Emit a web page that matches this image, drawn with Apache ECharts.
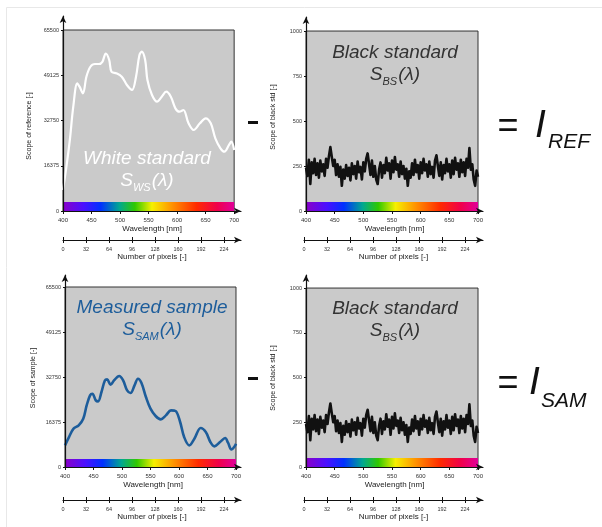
<!DOCTYPE html>
<html>
<head>
<meta charset="utf-8">
<script src="https://cdn.jsdelivr.net/npm/echarts@6/dist/echarts.min.js"></script>
<style>
html, body { margin: 0; padding: 0; background: #ffffff; }
#chart { width: 602px; height: 527px; }
</style>
</head>
<body>
<div id="chart"></div>
<script>
// Tick positions for the axes
const wavelengthTicks = [400, 450, 500, 550, 600, 650, 700];
const pixelTicks = [0, 32, 64, 96, 128, 160, 192, 224];
const scopeTicks = [0, 16375, 32750, 49125, 65500];
const blackTicks = [0, 250, 500, 750, 1000];

// White standard spectrum S_WS(λ)
const whiteNm  = [400, 406, 412, 418, 425, 429, 435, 441, 448, 456, 463, 469, 475, 481, 485, 494, 503, 512, 521, 528, 534, 538, 544, 548, 556, 565, 573, 581, 589, 597, 604, 611, 620, 629, 640, 650, 659, 667, 676, 683, 691, 695, 700];
const whiteVal = [7600, 16030, 25700, 37750, 46200, 45000, 42600, 48600, 52200, 53200, 53200, 54000, 57000, 54650, 50400, 49800, 48600, 45600, 43800, 48600, 56450, 57650, 54650, 47400, 42000, 39560, 41370, 43170, 41370, 37150, 35940, 36550, 31740, 29310, 31740, 33550, 31740, 26310, 22690, 21460, 23890, 25080, 22080];

// Measured sample spectrum S_SAM(λ)
const sampleNm  = [400, 407, 415, 424, 432, 438, 444, 448, 454, 458, 464, 470, 474, 480, 486, 495, 502, 509, 515, 522, 528, 534, 542, 550, 559, 568, 577, 586, 594, 602, 609, 618, 627, 638, 647, 655, 662, 672, 681, 686, 692, 698, 700];
const sampleVal = [7860, 10900, 13940, 15150, 17580, 22420, 26050, 26660, 24240, 23870, 27290, 31510, 31880, 29950, 31510, 33110, 31510, 27870, 26930, 29700, 32130, 30680, 25470, 21220, 18560, 17330, 18780, 20600, 20380, 16375, 10920, 7860, 10300, 14190, 12740, 9100, 7500, 9100, 10550, 8840, 6400, 7640, 8480];

// Black standard (dark) readout S_BS(λ), one reading every 2.5 nm from 400 nm
const blackStartNm = 400;
const blackStepNm = 2.5;
const blackStd = [
  240, 195, 285, 150, 270, 210, 290, 200, 265, 185,
  280, 220, 260, 195, 290, 240, 305, 355, 300, 250,
  285, 200, 260, 190, 245, 140, 230, 180, 255, 195,
  240, 170, 265, 205, 250, 180, 275, 215, 245, 175,
  270, 220, 290, 320, 260, 200, 280, 190, 250, 175,
  150, 230, 270, 185, 255, 210, 295, 225, 265, 180,
  280, 215, 300, 230, 260, 190, 275, 205, 250, 180,
  235, 140, 220, 185, 265, 200, 285, 215, 255, 180,
  270, 210, 290, 225, 260, 190, 275, 205, 245, 185,
  280, 310, 250, 195, 270, 175, 255, 210, 290, 220,
  260, 185, 280, 205, 295, 230, 265, 190, 285, 215,
  270, 195, 290, 240, 350, 230, 260, 175, 140, 225,
  190
];

const FONT = '"Liberation Sans", Arial, Helvetica, sans-serif';

function pairs(xs, ys) { return xs.map((x, i) => [x, ys[i]]); }
const blackPairs = blackStd.map((v, i) => [blackStartNm + i * blackStepNm, v]);

// Visible spectrum strip along the wavelength axis
const spectrum = {
  type: 'linear', x: 0, y: 0, x2: 1, y2: 0,
  colorStops: [
    { offset: 0.00, color: '#8a00c8' },
    { offset: 0.12, color: '#4a10ff' },
    { offset: 0.22, color: '#0030ff' },
    { offset: 0.33, color: '#00a890' },
    { offset: 0.42, color: '#30c800' },
    { offset: 0.52, color: '#f6f000' },
    { offset: 0.64, color: '#ff9000' },
    { offset: 0.78, color: '#ff2a00' },
    { offset: 0.90, color: '#f0004a' },
    { offset: 1.00, color: '#e0009a' }
  ]
};

const panels = [
  { left: 63,  top: 16,  width: 178, height: 195, xMax: 712,   yMax: 70570, yTicks: scopeTicks, yTop: 65500, bar: 3260,
    data: pairs(whiteNm, whiteVal), color: '#ffffff', lw: 2.2, smooth: 0.35,
    pix: { left: 63, top: 239, width: 178, max: 247.7 } },
  { left: 306, top: 17,  width: 177, height: 194, xMax: 708.7, yMax: 1078,  yTicks: blackTicks, yTop: 1000, bar: 50,
    data: blackPairs, color: '#111111', lw: 2.6, smooth: false,
    pix: { left: 304, top: 239, width: 179, max: 249 } },
  { left: 65,  top: 275, width: 176, height: 192, xMax: 708.8, yMax: 69870, yTicks: scopeTicks, yTop: 65500, bar: 2900,
    data: pairs(sampleNm, sampleVal), color: '#1d5d9b', lw: 2.6, smooth: 0.35,
    pix: { left: 63, top: 499, width: 178, max: 247.7 } },
  { left: 306, top: 275, width: 177, height: 192, xMax: 708.7, yMax: 1073,  yTicks: blackTicks, yTop: 1000, bar: 50,
    data: blackPairs, color: '#111111', lw: 2.6, smooth: false,
    pix: { left: 304, top: 499, width: 179, max: 249 } }
];

const axisLine = { show: true, onZero: false, lineStyle: { color: '#111', width: 1.2 }, symbol: ['none', 'arrow'], symbolSize: [5, 7] };
const tickStyle = { color: '#111', width: 1 };
const plain = (v) => String(Math.round(v));

const grids = [], xAxes = [], yAxes = [], series = [];

panels.forEach((p) => {
  const g = grids.length;
  grids.push({ left: p.left, top: p.top, width: p.width, height: p.height, containLabel: false, outerBoundsMode: 'none' });
  xAxes.push({
    type: 'value', gridIndex: g, min: 400, max: p.xMax, z: 10,
    axisLine: axisLine,
    axisTick: { show: true, customValues: wavelengthTicks, length: 3, lineStyle: tickStyle },
    axisLabel: { customValues: wavelengthTicks, formatter: plain, fontSize: 6, color: '#333', margin: 6, fontFamily: FONT },
    splitLine: { show: false },
    name: 'Wavelength [nm]', nameLocation: 'middle', nameGap: 14,
    nameTextStyle: { fontSize: 8, color: '#222', fontFamily: FONT }
  });
  yAxes.push({
    type: 'value', gridIndex: g, min: 0, max: p.yMax, z: 10,
    axisLine: axisLine,
    axisTick: { show: true, customValues: p.yTicks, length: 2, lineStyle: tickStyle },
    axisLabel: { customValues: p.yTicks, formatter: plain, fontSize: 5.5, color: '#333', margin: 4, fontFamily: FONT },
    splitLine: { show: false }
  });
  series.push({
    type: 'line', xAxisIndex: xAxes.length - 1, yAxisIndex: yAxes.length - 1,
    data: p.data, showSymbol: false, symbol: 'none', smooth: p.smooth, z: 3,
    lineStyle: { color: p.color, width: p.lw, join: 'round' },
    markArea: {
      silent: true, label: { show: false },
      data: [
        [{ coord: [400, 0], itemStyle: { color: '#cacaca', borderColor: '#333', borderWidth: 1 } }, { coord: [700, p.yTop] }],
        [{ coord: [400, 0], itemStyle: { color: spectrum, borderWidth: 0 } }, { coord: [700, p.bar] }]
      ]
    }
  });

  // Detector pixel axis below the wavelength axis
  const pg = grids.length;
  grids.push({ left: p.pix.left, top: p.pix.top, width: p.pix.width, height: 1, containLabel: false, outerBoundsMode: 'none' });
  xAxes.push({
    type: 'value', gridIndex: pg, position: 'bottom', min: 0, max: p.pix.max,
    axisLine: axisLine,
    axisTick: { show: true, customValues: pixelTicks, length: 3, lineStyle: tickStyle },
    axisLabel: { customValues: pixelTicks, formatter: plain, fontSize: 5.5, color: '#333', margin: 6, fontFamily: FONT },
    splitLine: { show: false },
    name: 'Number of pixels [-]', nameLocation: 'middle', nameGap: 13,
    nameTextStyle: { fontSize: 8, color: '#222', fontFamily: FONT }
  });
  xAxes.push({
    type: 'value', gridIndex: pg, position: 'top', offset: -1, min: 0, max: p.pix.max,
    axisLine: { show: false },
    axisTick: { show: true, customValues: pixelTicks, length: 3, lineStyle: tickStyle },
    axisLabel: { show: false },
    splitLine: { show: false }
  });
  yAxes.push({ type: 'value', gridIndex: pg, show: false, min: 0, max: 1 });
});

function yName(text, x, y) {
  return { type: 'text', x: x, y: y, rotation: Math.PI / 2,
    style: { text: text, fill: '#222', fontSize: 7, fontFamily: FONT, align: 'center', verticalAlign: 'middle' } };
}

function plotTitle(line1, sub, x, y, fill) {
  const base = { fontSize: 19, fontStyle: 'italic', fontFamily: FONT, fill: fill };
  return [
    { type: 'text', x: x, y: y, z: 20,
      style: { text: line1, fill: fill, fontSize: 19, fontStyle: 'italic', fontFamily: FONT, align: 'center', verticalAlign: 'middle' } },
    { type: 'text', x: x, y: y + 22, z: 20,
      style: {
        text: '{s|S}{b|' + sub + '}{s|(λ)}', fill: fill, fontSize: 19, fontFamily: FONT,
        align: 'center', verticalAlign: 'middle',
        rich: {
          s: Object.assign({ lineHeight: 24 }, base),
          b: { fontSize: 11, fontStyle: 'italic', fontFamily: FONT, fill: fill, lineHeight: 14, verticalAlign: 'bottom', padding: [0, 1, 0, 0] }
        }
      } }
  ];
}

function equation(sub, yEq, xI, xSub, ySub) {
  return [
    { type: 'text', x: 508, y: yEq, z: 20,
      style: { text: '=', fill: '#111', fontSize: 36, fontFamily: FONT, align: 'center', verticalAlign: 'middle' } },
    { type: 'text', x: xI, y: yEq - 1, z: 20,
      style: { text: 'I', fill: '#111', fontSize: 39, fontStyle: 'italic', fontFamily: FONT, align: 'left', verticalAlign: 'middle' } },
    { type: 'text', x: xSub, y: ySub, z: 20,
      style: { text: sub, fill: '#111', fontSize: 21, fontStyle: 'italic', fontFamily: FONT, align: 'left', verticalAlign: 'middle' } }
  ];
}

const graphics = [
  { type: 'rect', shape: { x: 6.5, y: 7.5, width: 700, height: 600 }, style: { fill: 'none', stroke: '#e8e8e8', lineWidth: 1 }, z: 0 },
  { type: 'rect', shape: { x: 248, y: 121, width: 10, height: 3 }, style: { fill: '#111' }, z: 20 },
  { type: 'rect', shape: { x: 248, y: 377, width: 10, height: 3 }, style: { fill: '#111' }, z: 20 },
  yName('Scope of reference [-]', 29, 126),
  yName('Scope of black std [-]', 273, 117),
  yName('Scope of sample [-]', 33, 378),
  yName('Scope of black std [-]', 273, 378)
]
  .concat(plotTitle('White standard', 'WS', 147, 159, '#ffffff'))
  .concat(plotTitle('Black standard', 'BS', 395, 53, '#333333'))
  .concat(plotTitle('Measured sample', 'SAM', 152, 308, '#1d5d9b'))
  .concat(plotTitle('Black standard', 'BS', 395, 309, '#333333'))
  .concat(equation('REF', 127, 535, 548, 142))
  .concat(equation('SAM', 384, 529, 541, 401));

const chart = echarts.init(document.getElementById('chart'), null, { renderer: 'canvas' });
chart.setOption({
  animation: false,
  backgroundColor: '#ffffff',
  grid: grids,
  xAxis: xAxes,
  yAxis: yAxes,
  series: series,
  graphic: graphics
});
</script>
</body>
</html>
